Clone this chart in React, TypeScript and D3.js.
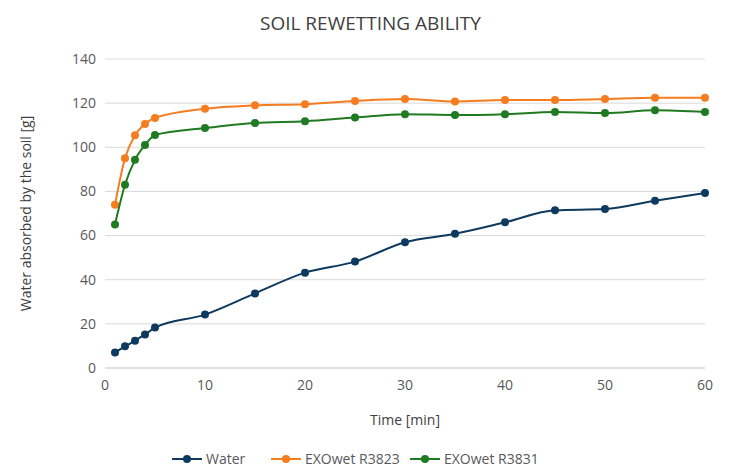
import React, { useRef, useEffect } from "react";
import * as d3 from "d3";

const times = [1, 2, 3, 4, 5, 10, 15, 20, 25, 30, 35, 40, 45, 50, 55, 60];
const water = [7, 9.8, 12.4, 15.2, 18.3, 24.2, 33.8, 43.2, 48.2, 57, 60.8, 66, 71.5, 72, 75.8, 79.3];
const r3823 = [74, 95, 105.4, 110.6, 113.3, 117.5, 119, 119.5, 121, 121.9, 120.8, 121.4, 121.4, 121.9, 122.4, 122.4];
const r3831 = [65, 83, 94.3, 101, 105.6, 108.7, 111, 111.8, 113.5, 115, 114.6, 115, 116, 115.5, 116.8, 116];
const seriesNames = ["Water", "EXOwet R3823", "EXOwet R3831"];
const colors = ["#0f3a5f", "#f57c1f", "#1f7a22"];
const xTicks = [0, 10, 20, 30, 40, 50, 60];
const yTicks = [0, 20, 40, 60, 80, 100, 120, 140];

const W = 741, H = 476;
const m = { left: 105, right: 36, top: 59, bottom: 108 };
const font = "'Open Sans', sans-serif";

export default function App() {
  const ref = useRef<SVGSVGElement>(null);
  useEffect(() => {
    const svg = d3.select(ref.current!);
    svg.selectAll("*").remove();
    const x = d3.scaleLinear().domain([0, 60]).range([m.left, W - m.right]);
    const y = d3.scaleLinear().domain([0, 140]).range([H - m.bottom, m.top]);

    svg.append("g").selectAll("line").data(yTicks.slice(1)).join("line")
      .attr("x1", x(0)).attr("x2", x(60)).attr("y1", (d) => y(d)).attr("y2", (d) => y(d))
      .attr("stroke", "#d9d9d9");
    svg.append("line").attr("x1", x(0)).attr("x2", x(60)).attr("y1", y(0)).attr("y2", y(0)).attr("stroke", "#bfbfbf");

    svg.append("g").selectAll("text").data(yTicks).join("text")
      .attr("x", x(0) - 9).attr("y", (d) => y(d)).attr("dy", "0.35em").attr("text-anchor", "end")
      .attr("font-size", 14).attr("fill", "#595959").attr("font-family", font).text((d) => d);
    svg.append("g").selectAll("text").data(xTicks).join("text")
      .attr("x", (d) => x(d)).attr("y", y(0) + 22).attr("text-anchor", "middle")
      .attr("font-size", 14).attr("fill", "#595959").attr("font-family", font).text((d) => d);

    svg.append("text").attr("x", W / 2).attr("y", 30).attr("text-anchor", "middle")
      .attr("font-size", 19).attr("fill", "#404040").attr("font-family", font).text("SOIL REWETTING ABILITY");
    svg.append("text").attr("x", (x(0) + x(60)) / 2).attr("y", 425).attr("text-anchor", "middle")
      .attr("font-size", 14).attr("fill", "#404040").attr("font-family", font).text("Time [min]");
    svg.append("text").attr("transform", `translate(31,${(y(0) + y(140)) / 2}) rotate(-90)`)
      .attr("text-anchor", "middle").attr("font-size", 14).attr("fill", "#404040").attr("font-family", font)
      .text("Water absorbed by the soil [g]");

    const line = d3.line<number>().x((_, i) => x(times[i])).y((d) => y(d)).curve(d3.curveMonotoneX);
    [water, r3823, r3831].forEach((s, k) => {
      svg.append("path").datum(s).attr("d", line).attr("fill", "none").attr("stroke", colors[k]).attr("stroke-width", 2);
      svg.append("g").selectAll("circle").data(s).join("circle")
        .attr("cx", (_, i) => x(times[i])).attr("cy", (d) => y(d)).attr("r", 4).attr("fill", colors[k]);
    });

    const lx = [172, 271, 410];
    seriesNames.forEach((n, k) => {
      const g = svg.append("g").attr("transform", `translate(${lx[k]},459)`);
      g.append("line").attr("x1", 0).attr("x2", 30).attr("stroke", colors[k]).attr("stroke-width", 2);
      g.append("circle").attr("cx", 15).attr("r", 4).attr("fill", colors[k]);
      g.append("text").attr("x", 34).attr("dy", "0.35em").attr("font-size", 14).attr("fill", "#595959")
        .attr("font-family", font).text(n);
    });
  }, []);
  return (
    <div style={{ position: "absolute", left: 0, top: 0 }}>
      <svg ref={ref} width={W} height={H} style={{ display: "block", background: "#fff" }} />
    </div>
  );
}
